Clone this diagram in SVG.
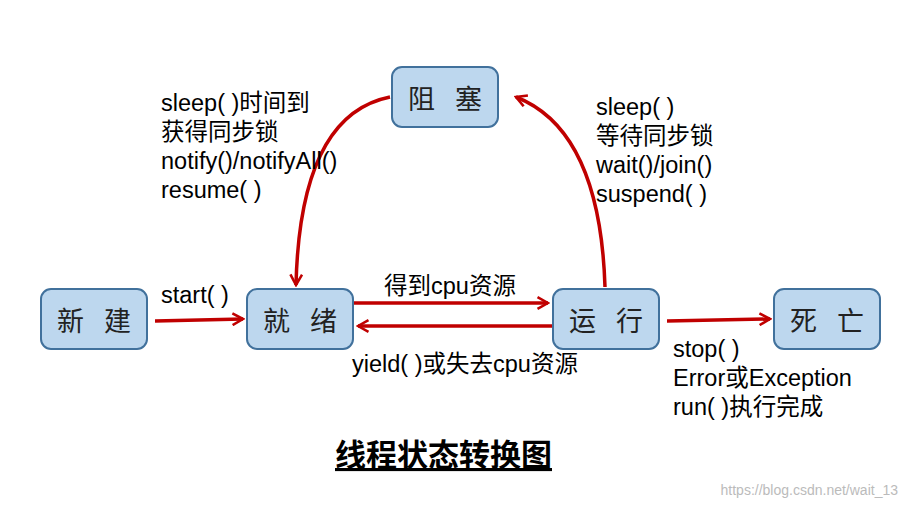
<svg xmlns="http://www.w3.org/2000/svg" width="909" height="508" viewBox="0 0 909 508">
<style>
.n rect{fill:#BDD7EE;stroke:#41719C;stroke-width:2}
.n text{font-family:"Liberation Sans","Noto Sans CJK SC",sans-serif;font-size:27px;fill:#222;text-anchor:middle;letter-spacing:20px}
.c path{fill:none;stroke:#C00000;stroke-width:3.5;marker-end:url(#a)}
.t{font-family:"Liberation Sans","Noto Sans CJK SC",sans-serif;font-size:23.5px;fill:#000}
</style>
<defs><marker id="a" viewBox="0 0 12 12" refX="10" refY="6" markerWidth="4" markerHeight="4" orient="auto" markerUnits="strokeWidth"><path d="M1,1 L10,6 L1,11" fill="none" stroke="#C00000" stroke-width="2.2"/></marker></defs>
<rect width="909" height="508" fill="#fff"/>
<g class="c">
<path d="M155,321 L243,319"/>
<path d="M353,303 L548,303"/>
<path d="M553,326 L358,326"/>
<path d="M667,321 L770,319"/>
<path d="M390,97 Q300,115 296,285"/>
<path d="M605,287 Q600,130 516,97"/>
</g>
<g id="xinjian" class="n"><rect x="41" y="289" width="106" height="60" rx="10"/><text x="104" y="331">新建</text></g>
<g id="jiuxu" class="n"><rect x="247" y="289" width="106" height="60" rx="10"/><text x="310" y="331">就绪</text></g>
<g id="yunxing" class="n"><rect x="553" y="289" width="106" height="60" rx="10"/><text x="616" y="331">运行</text></g>
<g id="siwang" class="n"><rect x="774" y="289" width="106" height="60" rx="10"/><text x="837" y="331">死亡</text></g>
<g id="zusai" class="n"><rect x="392" y="67" width="106" height="60" rx="10"/><text x="455" y="109">阻塞</text></g>
<g class="t">
<text x="161" y="111">sleep( )时间到</text>
<text x="161" y="140">获得同步锁</text>
<text x="161" y="169">notify()/notifyAll()</text>
<text x="161" y="198">resume( )</text>
<text x="596" y="115">sleep( )</text>
<text x="596" y="144">等待同步锁</text>
<text x="596" y="173">wait()/join()</text>
<text x="596" y="202">suspend( )</text>
<text x="161" y="303">start( )</text>
<text x="384" y="294">得到cpu资源</text>
<text x="352" y="372">yield( )或失去cpu资源</text>
<text x="673" y="357">stop( )</text>
<text x="673" y="386">Error或Exception</text>
<text x="673" y="415">run( )执行完成</text>
</g>
<text x="335" y="466" font-family="Liberation Sans,'Noto Sans CJK SC',sans-serif" font-size="31" font-weight="bold" fill="#000" text-decoration="underline">线程状态转换图</text>
<text x="898" y="495" text-anchor="end" font-family="Liberation Sans,sans-serif" font-size="14" fill="#bbb">https://blog.csdn.net/wait_13</text>
</svg>
